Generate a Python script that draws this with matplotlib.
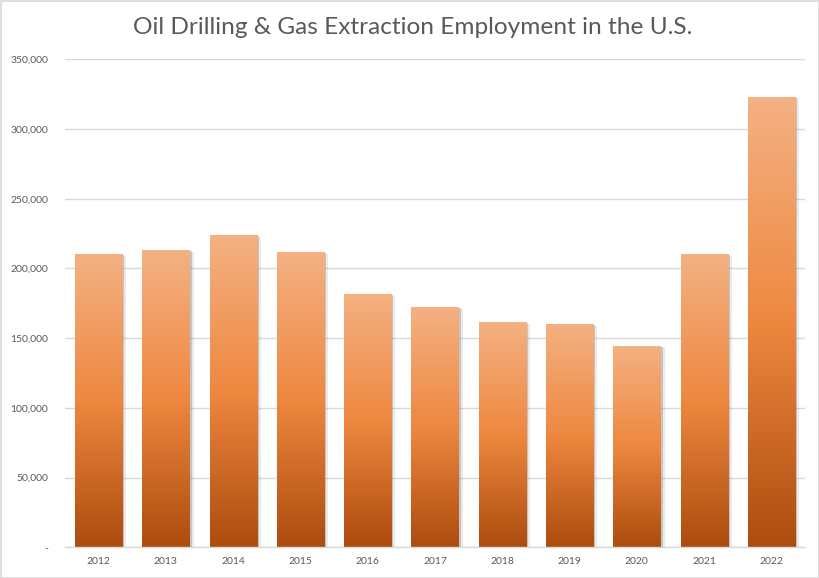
import matplotlib
matplotlib.use("Agg")
import matplotlib.pyplot as plt
import numpy as np
from matplotlib import patheffects as pe
from matplotlib.colors import LinearSegmentedColormap
from matplotlib.ticker import FuncFormatter
from matplotlib.patches import Rectangle

years = ["2012", "2013", "2014", "2015", "2016", "2017", "2018", "2019", "2020", "2021", "2022"]
employment = [210300, 213000, 223800, 211600, 181600, 172400, 161600, 160200, 144500, 210200, 323100]
y_ticks = [0, 50000, 100000, 150000, 200000, 250000, 300000, 350000]
title = "Oil Drilling & Gas Extraction Employment in the U.S."

plt.rcParams['font.family'] = ['Lato', 'DejaVu Sans']

fig = plt.figure(figsize=(8.2, 5.78), dpi=100)
ax = fig.add_axes([65/820, 1-547.3/578, 740/820, (547.3-59.3)/578])

x = np.arange(len(years))
width = 0.70
bars = ax.bar(x, employment, width=width, color="#ED7D31", zorder=3,
              path_effects=[pe.SimplePatchShadow(offset=(3.0, -1.2), shadow_rgbFace="#8c8c8c", alpha=0.18),
                            pe.SimplePatchShadow(offset=(1.6, -0.6), shadow_rgbFace="#7f7f7f", alpha=0.35),
                            pe.Normal()])

cmap = LinearSegmentedColormap.from_list(
    "og", [(0.0, "#AD4C0E"), (0.5, "#EE8840"), (1.0, "#F4B183")])
grad = np.linspace(0, 1, 256).reshape(-1, 1)
for rect, v in zip(bars, employment):
    x0 = rect.get_x()
    im = ax.imshow(grad, cmap=cmap, origin="lower", aspect="auto",
                   extent=(x0, x0 + rect.get_width(), 0, v), zorder=4)
    im.set_clip_path(rect)

ax.set_xlim(-0.5, len(years) - 0.5)
ax.set_ylim(0, 350000)
ax.set_xticks(x)
ax.set_xticklabels(years)
ax.set_yticks(y_ticks)
ax.yaxis.set_major_formatter(FuncFormatter(lambda v, p: "-" if v == 0 else f"{int(v):,}"))
ax.tick_params(axis="both", length=0, labelsize=7.5, colors="#595959")
ax.tick_params(axis="y", pad=12)
ax.tick_params(axis="x", pad=7)
ax.grid(axis="y", color="#D9D9D9", linewidth=1.0, zorder=0)
ax.set_axisbelow(True)
for s in ["top", "right", "left"]:
    ax.spines[s].set_visible(False)
ax.spines["bottom"].set_color("#D9D9D9")
ax.spines["bottom"].set_linewidth(1.0)
ax.spines["bottom"].set_zorder(5)

fig.text(0.503, 1 - 28/578, title, ha="center", va="center", fontsize=17.6, color="#595959")

border = Rectangle((0.5/820, 0.5/578), 1 - 1.5/820, 1 - 1.5/578, transform=fig.transFigure,
                   fill=False, edgecolor="#D9D9D9", linewidth=1.2)
fig.patches.append(border)

fig.savefig("out.png", dpi=100)
